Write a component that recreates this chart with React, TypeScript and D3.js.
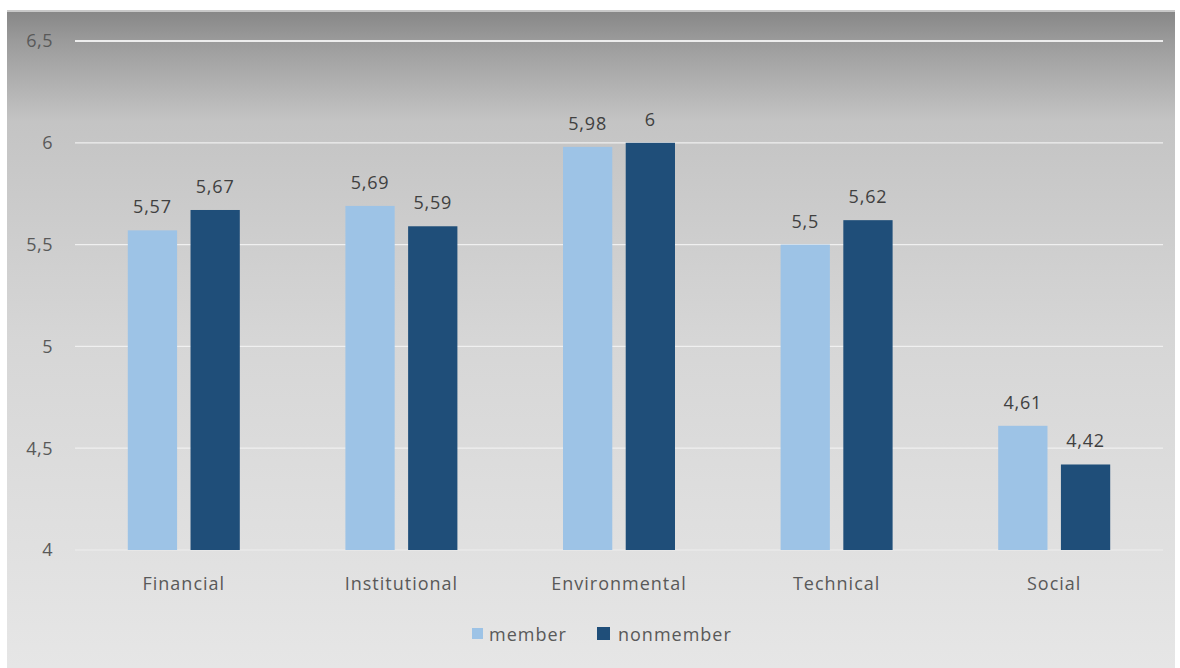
import React from "react";
import * as d3 from "d3";

const categories = ["Financial", "Institutional", "Environmental", "Technical", "Social"];
const seriesNames = ["member", "nonmember"];
const memberValues = [5.57, 5.69, 5.98, 5.5, 4.61];
const nonmemberValues = [5.67, 5.59, 6, 5.62, 4.42];
const yTicks = [4, 4.5, 5, 5.5, 6, 6.5];
const colors = ["#9dc3e6", "#1f4e79"];

const W = 1180;
const H = 668;
const fmt = (v: number) => String(v).replace(".", ",");
const font = "'Open Sans', 'DejaVu Sans', sans-serif";

export default function App() {
  const left = 75, right = 1163, top = 41, bottom = 550;
  const x = d3.scaleBand<string>().domain(categories).range([left, right]).paddingInner(0).paddingOuter(0);
  const groupW = 112;
  const inner = d3.scaleBand<string>().domain(seriesNames).range([0, groupW]).paddingInner(12 / 112 * 2).paddingOuter(0);
  const y = d3.scaleLinear().domain([4, 6.5]).range([bottom, top]);
  const series = [memberValues, nonmemberValues];

  return (
    <svg width={W} height={H} style={{ position: "absolute", left: 0, top: 0 }}>
      <defs>
        <linearGradient id="bg" x1="0" y1="0" x2="0" y2="1">
          <stop offset="0" stopColor="#868686" />
          <stop offset="0.05" stopColor="#9c9c9c" />
          <stop offset="0.17" stopColor="#c4c4c4" />
          <stop offset="0.5" stopColor="#d6d6d6" />
          <stop offset="1" stopColor="#e6e6e6" />
        </linearGradient>
      </defs>
      <rect x={0} y={0} width={W} height={H} fill="#ffffff" />
      <rect x={7} y={10} width={1168} height={658} fill="url(#bg)" />
      <rect x={7} y={10} width={1168} height={2} fill="#c8c8c8" />
      {yTicks.map((t) => (
        <g key={t}>
          <line x1={left} x2={right} y1={y(t)} y2={y(t)} stroke="#f2f2f2" strokeWidth={t === 6.5 ? 2 : 1.2} opacity={t === 4 ? 0.8 : 0.95} />
          <text x={53} y={y(t)} dy="0.35em" textAnchor="end" fontFamily={font} fontSize={18} letterSpacing={0.5} fill="#595959">
            {fmt(t)}
          </text>
        </g>
      ))}
      {categories.map((c, i) => {
        const gx = (x(c) as number) + x.bandwidth() / 2 - groupW / 2;
        return (
          <g key={c}>
            {series.map((vals, s) => {
              const bx = gx + (inner(seriesNames[s]) as number);
              const by = y(vals[i]);
              return (
                <g key={s}>
                  <rect x={bx} y={by} width={inner.bandwidth()} height={bottom - by} fill={colors[s]} />
                  <text x={bx + inner.bandwidth() / 2} y={by - 17} textAnchor="middle" fontFamily={font} fontSize={18} letterSpacing={0.8} fill="#404040">
                    {fmt(vals[i])}
                  </text>
                </g>
              );
            })}
            <text x={(x(c) as number) + x.bandwidth() / 2} y={590} textAnchor="middle" fontFamily={font} fontSize={18} letterSpacing={1} fill="#595959">
              {c}
            </text>
          </g>
        );
      })}
      <g>
        <rect x={472} y={628} width={11} height={11} fill={colors[0]} />
        <text x={489} y={641} fontFamily={font} fontSize={18} letterSpacing={1} fill="#595959">member</text>
        <rect x={597} y={627} width={13} height={13} fill={colors[1]} />
        <text x={618} y={641} fontFamily={font} fontSize={18} letterSpacing={1} fill="#595959">nonmember</text>
      </g>
    </svg>
  );
}
